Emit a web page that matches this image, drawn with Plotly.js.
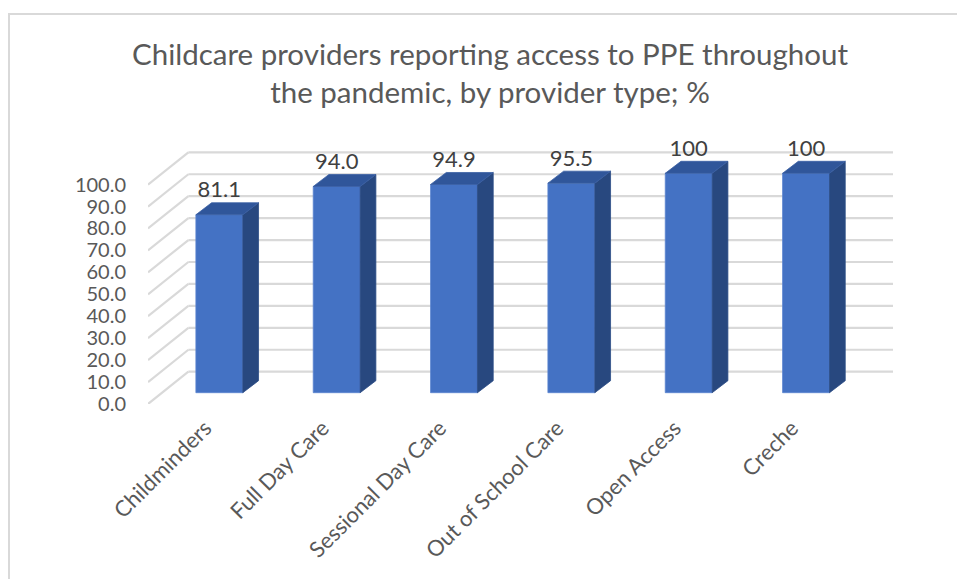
<!DOCTYPE html>
<html>
<head>
<meta charset="utf-8">
<script src="https://cdn.plot.ly/plotly-3.0.1.min.js"></script>
<style>
  html, body { margin: 0; padding: 0; background: #ffffff; }
  #wrap { position: relative; width: 957px; height: 579px; }
  #chart { position: absolute; left: 0; top: 0; width: 957px; height: 579px; }
  #frame { position: absolute; left: 8px; top: 13px; right: 0; bottom: 0;
           border-left: 2px solid #d9d9d9; border-top: 2px solid #d9d9d9; pointer-events: none; }
</style>
</head>
<body>
<div id="wrap"><div id="chart"></div><div id="frame"></div></div>
<script>
// ---- data ----
const categories = ["Childminders", "Full Day Care", "Sessional Day Care", "Out of School Care", "Open Access", "Creche"];
const values = [81.1, 94.0, 94.9, 95.5, 100, 100];
const dataLabels = ["81.1", "94.0", "94.9", "95.5", "100", "100"];
const gridValues = [0, 10, 20, 30, 40, 50, 60, 70, 80, 90, 100];

// ---- 3D (oblique) styling constants ----
const BAR_W = 0.4;        // front face width (category units)
const BAR_DX = 0.134;     // bar depth, x shift (category units)
const BAR_DY = 5.47;      // bar depth, y shift (value units)
const FRONT_X = -0.608;   // front edge of the side wall (bar-plane x units)
const BACK_X = -0.264;    // back wall left edge
const RIGHT_X = 5.741;    // back wall right edge
const FRONT_DY = -5.15;   // front edge y offset relative to bar plane
const BACK_DY = 9.57;     // back wall y offset relative to bar plane
const FRONT_SHIFT_X = 0.12; // front edge x offset relative to bar plane
const Y_MIN = -5.15, Y_MAX = 111.53;

const idx = categories.map((_, i) => i);

// top and side faces
const topX = [], topY = [], sideX = [], sideY = [];
values.forEach((v, i) => {
  const l = i - BAR_W / 2, r = i + BAR_W / 2;
  topX.push(l, r, r + BAR_DX, l + BAR_DX, l, null);
  topY.push(v, v, v + BAR_DY, v + BAR_DY, v, null);
  sideX.push(r, r + BAR_DX, r + BAR_DX, r, r, null);
  sideY.push(0, BAR_DY, v + BAR_DY, v, 0, null);
});

// slanted side-wall gridlines, drawn in the front-edge scales (xaxis2 / yaxis2)
const slX = [], slY = [];
gridValues.forEach(g => {
  slX.push(FRONT_X + FRONT_SHIFT_X, BACK_X + FRONT_SHIFT_X, null);
  slY.push(g, g + BACK_DY - FRONT_DY, null);
});

// back wall gridlines as shapes below the bars
const shapes = gridValues.map(g => ({
  type: 'line', xref: 'x', yref: 'y', layer: 'below',
  x0: BACK_X, x1: RIGHT_X, y0: g + BACK_DY, y1: g + BACK_DY,
  line: { color: '#d9d9d9', width: 2.2 }
}));

const traces = [
  { type: 'bar', x: idx, y: values, width: BAR_W,
    marker: { color: '#4472C4', line: { color: '#5a84cf', width: 0.8 } },
    hoverinfo: 'skip', showlegend: false },
  { type: 'scatter', x: sideX, y: sideY, mode: 'lines', fill: 'toself',
    fillcolor: '#28487F', line: { color: '#2c4d86', width: 0.8 }, hoverinfo: 'skip', showlegend: false },
  { type: 'scatter', x: topX, y: topY, mode: 'lines', fill: 'toself',
    fillcolor: '#30569A', line: { color: '#3a5fa3', width: 0.8 }, hoverinfo: 'skip', showlegend: false },
  { type: 'scatter', x: idx, y: values.map(v => v + BAR_DY), mode: 'text',
    text: dataLabels, textposition: 'top center', cliponaxis: false,
    textfont: { family: 'Lato, sans-serif', size: 22, color: '#404040' },
    hoverinfo: 'skip', showlegend: false },
  { type: 'scatter', x: slX, y: slY, xaxis: 'x2', yaxis: 'y2', mode: 'lines', cliponaxis: false,
    line: { color: '#d9d9d9', width: 2.2 }, hoverinfo: 'skip', showlegend: false }
];

const layout = {
  width: 957, height: 579,
  margin: { l: 148, r: 64, t: 148, b: 175, pad: 0 },
  paper_bgcolor: 'rgba(0,0,0,0)', plot_bgcolor: 'rgba(0,0,0,0)',
  showlegend: false, hovermode: false,
  font: { family: 'Lato, sans-serif', color: '#595959' },
  title: {
    text: 'Childcare providers reporting access to PPE throughout<br>the pandemic, by provider type; %',
    font: { family: 'Lato, sans-serif', size: 29.5, color: '#595959' },
    xref: 'container', x: 0.512, xanchor: 'center',
    yref: 'container', y: 1 - 65 / 579, yanchor: 'top'
  },
  xaxis: {
    range: [FRONT_X, RIGHT_X], showgrid: false, zeroline: false, showline: false,
    showticklabels: false, ticks: ''
  },
  xaxis2: {
    overlaying: 'x', anchor: 'y2', side: 'bottom',
    range: [FRONT_X + FRONT_SHIFT_X, RIGHT_X + FRONT_SHIFT_X],
    tickmode: 'array', tickvals: idx, ticktext: categories,
    tickangle: -45, showgrid: false, zeroline: false, showline: false, ticks: '',
    ticklabelstandoff: 6,
    tickfont: { family: 'Lato, sans-serif', size: 22, color: '#595959' }
  },
  yaxis: {
    range: [Y_MIN, Y_MAX], showgrid: false, zeroline: false, showline: false,
    showticklabels: false, ticks: ''
  },
  yaxis2: {
    overlaying: 'y', anchor: 'x2', side: 'left',
    range: [Y_MIN - FRONT_DY, Y_MAX - FRONT_DY],
    tickmode: 'array', tickvals: gridValues, tickformat: '.1f',
    showgrid: false, zeroline: false, showline: false, ticks: '',
    ticklabelstandoff: 21,
    tickfont: { family: 'Lato, sans-serif', size: 20, color: '#595959' }
  },
  shapes: shapes
};

Plotly.newPlot('chart', traces, layout, { displayModeBar: false, staticPlot: true });
</script>
</body>
</html>
